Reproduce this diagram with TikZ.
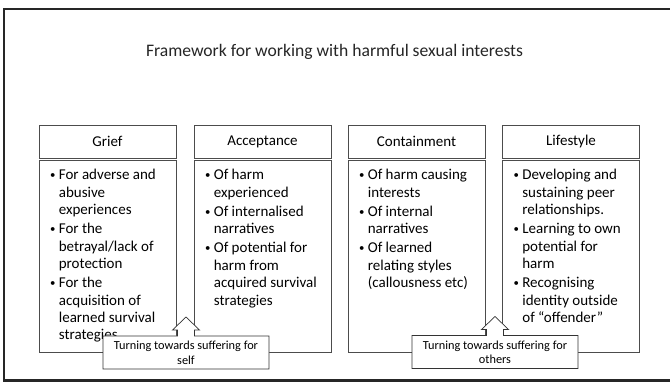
\documentclass[tikz,border=0pt]{standalone}
\usepackage{fontspec}
\setmainfont{Carlito}
\usetikzlibrary{calc}

% small bullet and hanging indent for the item lists
\newcommand{\bul}{\makebox[10.5pt][l]{\hspace{1.8pt}\raisebox{0.9pt}{\scalebox{0.72}{\textbullet}}}}
\newcommand{\hang}{\hspace*{10.5pt}}

\tikzset{
  frame/.style={line width=2.6pt, draw=black!85},
  headbox/.style={draw=black!70, line width=0.7pt, minimum width=137pt, minimum height=33pt,
                  inner sep=0pt, font=\fontsize{15}{18}\selectfont},
  bodybox/.style={draw=black!70, line width=0.7pt, minimum width=137pt, minimum height=192pt,
                  inner sep=0pt, anchor=north},
  itemtext/.style={anchor=north west, inner sep=0pt, align=left,
                   font=\fontsize{15}{17.4}\selectfont},
  callout/.style={draw=black!80, line width=0.7pt, fill=white},
  calltext/.style={inner sep=0pt, align=center, font=\fontsize{12.3}{14.5}\selectfont},
  titletext/.style={inner sep=0pt, anchor=base, font=\fontsize{17.6}{20}\selectfont, text=black!85}
}

\begin{document}
\begin{tikzpicture}[x=1pt, y=-1pt]
  \useasboundingbox (0,0) rectangle (670,382);
  \fill[white] (0,0) rectangle (670,382);

  % slide frame, open on the right
  \draw[frame] (675,9) -- (4,9) -- (4,380.5) -- (675,380.5);

  \node[titletext] (title) at (334.5,57) {Framework for working with harmful sexual interests};

  % column headers
  \node[headbox] (h1) at (107.5,141.5) {Grief};
  \node[headbox] (h2) at (262.5,141.5) {Acceptance};
  \node[headbox] (h3) at (416.5,141.5) {Containment};
  \node[headbox] (h4) at (571,141.5) {Lifestyle};

  % column bodies
  \node[bodybox] (b1) at (107.5,160.5) {};
  \node[bodybox] (b2) at (262.5,160.5) {};
  \node[bodybox] (b3) at (416.5,160.5) {};
  \node[bodybox] (b4) at (571,160.5) {};

  \node[itemtext] (t1) at ($(b1.north west)+(9.5,8.5)$) {%
    \bul For adverse and\\ \hang abusive\\ \hang experiences\\[1.8pt]
    \bul For the\\ \hang betrayal/lack of\\ \hang protection\\[1.8pt]
    \bul For the\\ \hang acquisition of\\ \hang learned survival\\ \hang strategies};
  \node[itemtext] (t2) at ($(b2.north west)+(9.5,8.5)$) {%
    \bul Of harm\\ \hang experienced\\[1.8pt]
    \bul Of internalised\\ \hang narratives\\[1.8pt]
    \bul Of potential for\\ \hang harm from\\ \hang acquired survival\\ \hang strategies};
  \node[itemtext] (t3) at ($(b3.north west)+(9.5,8.5)$) {%
    \bul Of harm causing\\ \hang interests\\[1.8pt]
    \bul Of internal\\ \hang narratives\\[1.8pt]
    \bul Of learned\\ \hang relating styles\\ \hang (callousness etc)};
  \node[itemtext] (t4) at ($(b4.north west)+(9.5,8.5)$) {%
    \bul Developing and\\ \hang sustaining peer\\ \hang relationships.\\[1.8pt]
    \bul Learning to own\\ \hang potential for\\ \hang harm\\[1.8pt]
    \bul Recognising\\ \hang identity outside\\ \hang of “offender”};

  % up-arrow callouts
  \coordinate (c1) at (186,352.5);
  \coordinate (c2) at (495,352);
  \foreach \c/\w in {c1/83, c2/83} {
    \filldraw[callout]
      ($(\c)+(-\w,-16.5)$) -- ($(\c)+(-8.5,-16.5)$) -- ($(\c)+(-8.5,-22.5)$) --
      ($(\c)+(-13.5,-22.5)$) -- ($(\c)+(0,-35.5)$) -- ($(\c)+(13.5,-22.5)$) --
      ($(\c)+(8.5,-22.5)$) -- ($(\c)+(8.5,-16.5)$) -- ($(\c)+(\w,-16.5)$) --
      ($(\c)+(\w,16.5)$) -- ($(\c)+(-\w,16.5)$) -- cycle;
  }
  \node[calltext] (l1) at ($(c1)+(0,0.5)$) {Turning towards suffering for\\self};
  \node[calltext] (l2) at ($(c2)+(0,0.5)$) {Turning towards suffering for\\others};
\end{tikzpicture}
\end{document}
